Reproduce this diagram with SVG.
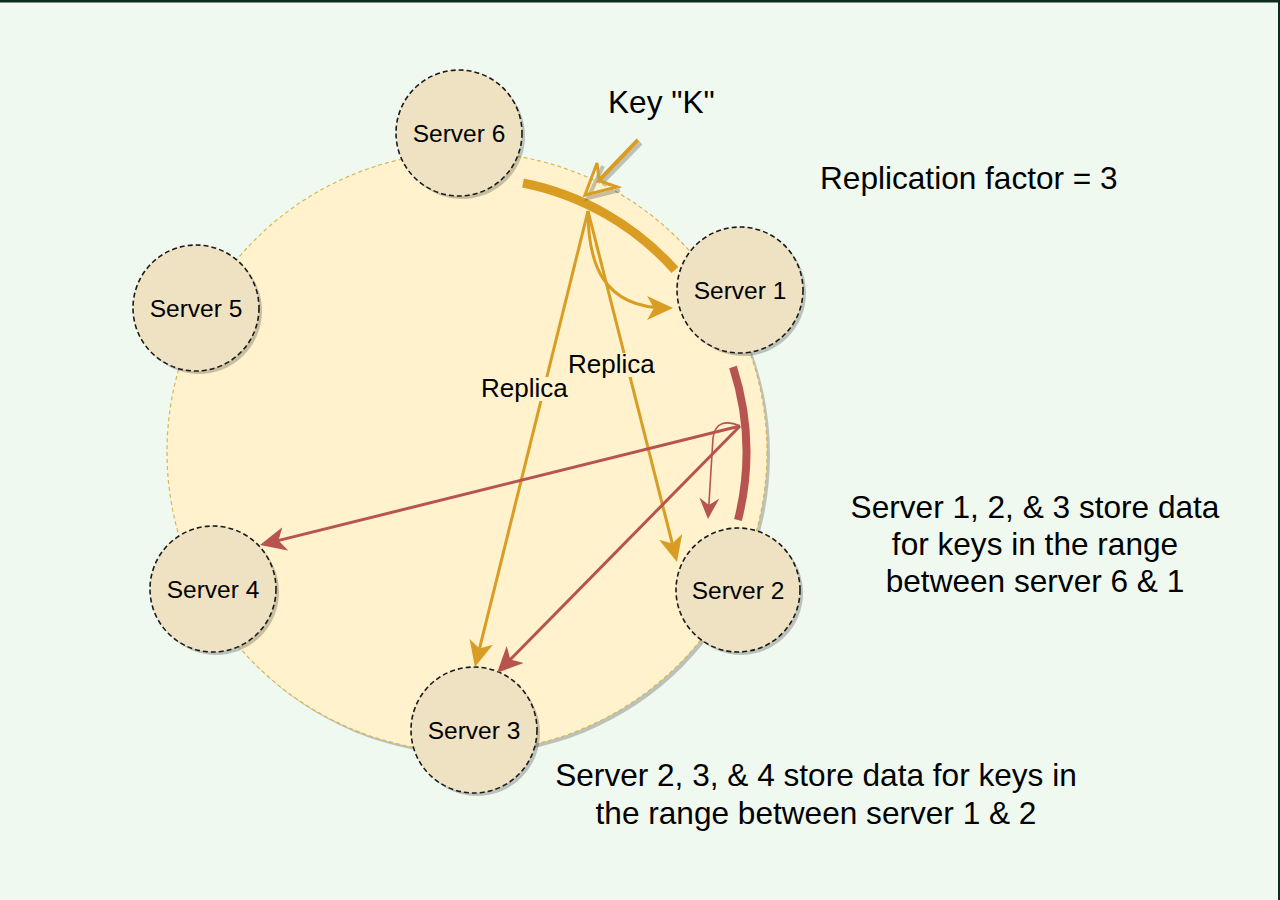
<svg xmlns="http://www.w3.org/2000/svg" width="1280" height="900" viewBox="0 0 1280 900">
<defs>
<style>
.bg{fill:#f0f9ef}
.ring{fill:#fff2cc;stroke:#d6b656;stroke-width:1.2;stroke-dasharray:4 3}
.shadow{fill:#000;opacity:0.22}
.srv{fill:#efe2c2;stroke:#1a1a1a;stroke-width:1.6;stroke-dasharray:5 3}
.lbl{font-family:"Liberation Sans",Arial,Helvetica,sans-serif;fill:#000}
.srvt{font-size:24.5px;text-anchor:middle}
.big{font-size:31.6px}
.rep{font-size:26px}
.gold{stroke:#d99d24;fill:none}
.red{stroke:#b85450;fill:none}
</style>
<marker id="ag" markerUnits="userSpaceOnUse" viewBox="0 0 26 24" refX="20" refY="12" markerWidth="26" markerHeight="24" orient="auto">
<path d="M0,0 L26,12 L0,24 L7,12 Z" fill="#d99d24"/>
</marker>
<marker id="ar" markerUnits="userSpaceOnUse" viewBox="0 0 26 24" refX="20" refY="12" markerWidth="26" markerHeight="24" orient="auto">
<path d="M0,0 L26,12 L0,24 L7,12 Z" fill="#b85450"/>
</marker>
<marker id="ars" markerUnits="userSpaceOnUse" viewBox="0 0 21 20" refX="16" refY="10" markerWidth="21" markerHeight="20" orient="auto">
<path d="M0,0 L21,10 L0,20 L7,10 Z" fill="#b85450"/>
</marker>
</defs>
<rect class="bg" x="0" y="0" width="1280" height="900"/>
<rect x="0" y="0" width="1280" height="2.5" fill="#0d2a1e"/>
<rect x="1278" y="0" width="2" height="900" fill="#0d2a1e"/>

<g id="ring">
<circle class="shadow" cx="470" cy="455" r="300"/>
<circle class="ring" cx="467" cy="452" r="300"/>
</g>

<g id="range-arcs">
<path d="M523,183 A277,277 0 0 1 675,270" stroke="#d99d24" stroke-width="9" fill="none"/>
<path d="M733,367 A279,279 0 0 1 738,520" stroke="#b85450" stroke-width="8" fill="none"/>
</g>

<g id="server6"><circle class="shadow" cx="462" cy="136" r="63"/><circle class="srv" cx="459" cy="133" r="63"/><text class="lbl srvt" x="459" y="141.5">Server 6</text></g>
<g id="server5"><circle class="shadow" cx="199" cy="311" r="63"/><circle class="srv" cx="196" cy="308" r="63"/><text class="lbl srvt" x="196" y="316.5">Server 5</text></g>
<g id="server1"><circle class="shadow" cx="743" cy="293" r="63"/><circle class="srv" cx="740" cy="290" r="63"/><text class="lbl srvt" x="740" y="298.5">Server 1</text></g>
<g id="server2"><circle class="shadow" cx="741" cy="593" r="62"/><circle class="srv" cx="738" cy="590" r="62"/><text class="lbl srvt" x="738" y="598.5">Server 2</text></g>
<g id="server4"><circle class="shadow" cx="216" cy="592" r="63"/><circle class="srv" cx="213" cy="589" r="63"/><text class="lbl srvt" x="213" y="597.5">Server 4</text></g>
<g id="server3"><circle class="shadow" cx="477" cy="733" r="63"/><circle class="srv" cx="474" cy="730" r="63"/><text class="lbl srvt" x="474" y="738.5">Server 3</text></g>

<g id="connectors">
<path class="gold" stroke-width="3" d="M588,211 C588,262 602,308 667,308" marker-end="url(#ag)"/>
<path class="gold" stroke-width="3" d="M588,211 L675.5,556.2" marker-end="url(#ag)"/>
<path class="gold" stroke-width="3" d="M588,211 L476.4,661.2" marker-end="url(#ag)"/>
<path class="red" stroke-width="3" d="M740,426 L265.8,543.6" marker-end="url(#ar)"/>
<path class="red" stroke-width="3" d="M740,426 L501.2,668.7" marker-end="url(#ar)"/>
<path class="red" stroke-width="1.6" d="M740,426 C726,420 715,422 713,438 L708.3,514" marker-end="url(#ars)"/>
<g id="key-arrow">
<path d="M641,143 L601.5,183.5 M603,166 L588,198 L620,190" stroke="#000" stroke-opacity="0.22" stroke-width="4" fill="none"/>
<path d="M638,140 L599,180.5" stroke="#d99d24" stroke-width="4" fill="none"/>
<path d="M597,163 L585,195 L617,187 Q605,183 599,180.5 Q598,170 597,163 Z" stroke="#d99d24" stroke-width="3" fill="none" stroke-linejoin="miter"/>
</g>
</g>

<g id="replica-labels">
<rect x="566" y="353" width="90" height="24" fill="#fff2cc"/>
<text class="lbl rep" x="568" y="373">Replica</text>
<rect x="479" y="377" width="90" height="24" fill="#fff2cc"/>
<text class="lbl rep" x="481" y="397">Replica</text>
</g>

<g id="texts">
<text class="lbl big" x="608" y="113">Key "K"</text>
<text class="lbl big" x="820" y="189">Replication factor = 3</text>
<text class="lbl big" text-anchor="middle" x="1035" y="518">Server 1, 2, &amp; 3 store data</text>
<text class="lbl big" text-anchor="middle" x="1035" y="555">for keys in the range</text>
<text class="lbl big" text-anchor="middle" x="1035" y="592">between server 6 &amp; 1</text>
<text class="lbl big" text-anchor="middle" x="816" y="786">Server 2, 3, &amp; 4 store data for keys in</text>
<text class="lbl big" text-anchor="middle" x="816" y="824">the range between server 1 &amp; 2</text>
</g>
</svg>
